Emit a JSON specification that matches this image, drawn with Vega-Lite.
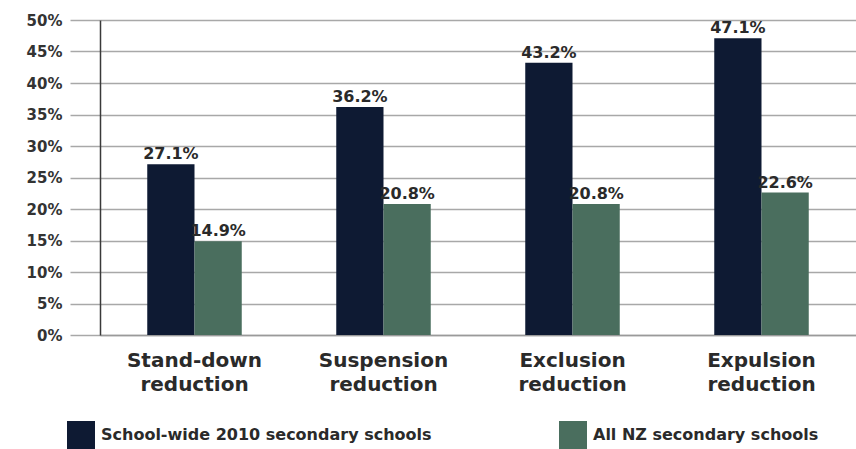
{
  "$schema": "https://vega.github.io/schema/vega-lite/v6.json",
  "width": 756,
  "height": 315,
  "autosize": "none",
  "padding": {"left": 100, "top": 20, "right": 0, "bottom": 114},
  "background": "#ffffff",
  "data": {
    "values": [
      {"category": "Stand-down reduction", "series": "School-wide 2010 secondary schools", "value": 0.271},
      {"category": "Stand-down reduction", "series": "All NZ secondary schools", "value": 0.149},
      {"category": "Suspension reduction", "series": "School-wide 2010 secondary schools", "value": 0.362},
      {"category": "Suspension reduction", "series": "All NZ secondary schools", "value": 0.208},
      {"category": "Exclusion reduction", "series": "School-wide 2010 secondary schools", "value": 0.432},
      {"category": "Exclusion reduction", "series": "All NZ secondary schools", "value": 0.208},
      {"category": "Expulsion reduction", "series": "School-wide 2010 secondary schools", "value": 0.471},
      {"category": "Expulsion reduction", "series": "All NZ secondary schools", "value": 0.226}
    ]
  },
  "encoding": {
    "x": {
      "field": "category",
      "type": "nominal",
      "sort": null,
      "scale": {"paddingInner": 0.5, "paddingOuter": 0.25},
      "axis": {
        "title": null,
        "labelAngle": 0,
        "labelExpr": "split(datum.label, ' ')",
        "labelFont": "DejaVu Sans",
        "labelFontWeight": "bold",
        "labelFontSize": 20,
        "labelColor": "#2a2a2a",
        "labelLineHeight": 24,
        "labelPadding": 15,
        "ticks": false,
        "domainColor": "#9a9a9a",
        "domainWidth": 1.5
      }
    },
    "xOffset": {
      "field": "series",
      "type": "nominal",
      "sort": ["School-wide 2010 secondary schools", "All NZ secondary schools"],
      "scale": {"paddingInner": 0, "paddingOuter": 0}
    },
    "y": {
      "field": "value",
      "type": "quantitative",
      "scale": {"domain": [0, 0.5], "nice": false},
      "axis": {
        "title": null,
        "values": [0, 0.05, 0.1, 0.15, 0.2, 0.25, 0.3, 0.35, 0.4, 0.45, 0.5],
        "format": ".0%",
        "labelFont": "DejaVu Sans",
        "labelFontWeight": "bold",
        "labelFontSize": 15,
        "labelColor": "#333333",
        "labelPadding": 8,
        "tickSize": 30,
        "tickColor": "#a8a8a8",
        "tickWidth": 1.5,
        "grid": true,
        "gridColor": "#a8a8a8",
        "gridWidth": 1.5,
        "domainColor": "#3a3a3a",
        "domainWidth": 1.5
      }
    }
  },
  "layer": [
    {
      "mark": {"type": "bar"},
      "encoding": {
        "color": {
          "field": "series",
          "type": "nominal",
          "sort": ["School-wide 2010 secondary schools", "All NZ secondary schools"],
          "scale": {
            "domain": ["School-wide 2010 secondary schools", "All NZ secondary schools"],
            "range": ["#0e1a33", "#4a6e5e"]
          },
          "legend": {
            "title": null,
            "orient": "none",
            "legendX": -33,
            "legendY": 401,
            "direction": "horizontal",
            "symbolType": "square",
            "symbolSize": 784,
            "symbolStrokeWidth": 0,
            "symbolOpacity": 1,
            "labelFont": "DejaVu Sans",
            "labelFontWeight": "bold",
            "labelFontSize": 16,
            "labelColor": "#2a2a2a",
            "labelOffset": 6,
            "labelLimit": 400,
            "columnPadding": 127
          }
        }
      }
    },
    {
      "mark": {
        "type": "text",
        "dy": -10,
        "font": "DejaVu Sans",
        "fontWeight": "bold",
        "fontSize": 16,
        "color": "#2a2a2a"
      },
      "encoding": {
        "text": {"field": "value", "type": "quantitative", "format": ".1%"}
      }
    }
  ],
  "config": {
    "view": {"stroke": null}
  }
}
